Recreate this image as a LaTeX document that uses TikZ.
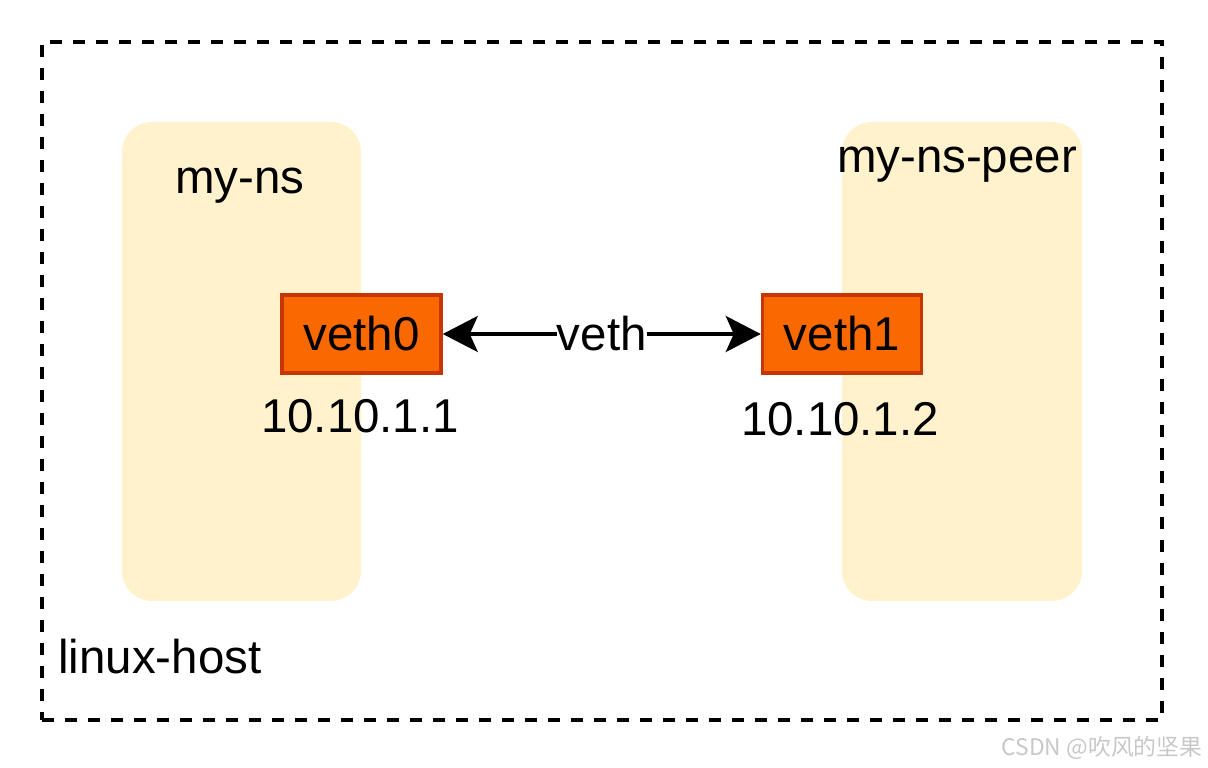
\documentclass[tikz,border=0pt]{standalone}
\usepackage{fontspec}
\setmainfont{Liberation Sans}
\newfontfamily\cjk{Noto Sans CJK SC}
\usepackage{tikz}
\usetikzlibrary{arrows.meta,positioning,calc}
\definecolor{nsyellow}{HTML}{FFF2CC}
\definecolor{vethorange}{HTML}{FA6800}
\definecolor{vethborder}{HTML}{C73500}
\definecolor{markgray}{RGB}{200,200,200}

\begin{document}
\begin{tikzpicture}[font=\fontsize{27}{32}\selectfont]
\useasboundingbox (0,0) rectangle (24.16,-15.36);
\node[draw,line width=2.1pt,dash pattern=on 0.24cm off 0.22cm,minimum width=22.4cm,minimum height=13.56cm,inner sep=0] (host) at (12.04,-7.62) {};
\node[fill=nsyellow,rounded corners=0.6cm,minimum width=4.78cm,minimum height=9.58cm,inner sep=0] (ns0) at (4.83,-7.23) {};
\node[fill=nsyellow,rounded corners=0.6cm,minimum width=4.8cm,minimum height=9.58cm,inner sep=0] (ns1) at (19.24,-7.23) {};
\node[anchor=base,inner sep=0] (ns0lbl) at (4.8,-3.86) {my-ns};
\node[anchor=base,inner sep=0] (ns1lbl) at (19.14,-3.44) {my-ns-peer};
\node[draw=vethborder,fill=vethorange,line width=2pt,minimum width=3.18cm,minimum height=1.56cm] (veth0) at (7.23,-6.68) {veth0};
\node[draw=vethborder,fill=vethorange,line width=2pt,minimum width=3.18cm,minimum height=1.56cm] (veth1) at (16.84,-6.68) {veth1};
\node[anchor=base,inner sep=0] (ip0) at (7.2,-8.64) {10.10.1.1};
\node[anchor=base,inner sep=0] (ip1) at (16.8,-8.7) {10.10.1.2};
\node[anchor=base west,inner sep=0] (hostlbl) at (1.16,-13.46) {linux-host};
\draw[{Stealth[length=0.7cm,width=0.72cm,inset=0.16cm]}-{Stealth[length=0.7cm,width=0.72cm,inset=0.16cm]},line width=2pt] (veth0)--(veth1) node[midway,fill=white,inner xsep=0pt,inner ysep=1pt] (link) {veth};
\node[text=markgray,font=\fontsize{13}{15}\selectfont\cjk] (mark) at (22.04,-14.96) {CSDN @吹风的坚果};
\end{tikzpicture}
\end{document}
